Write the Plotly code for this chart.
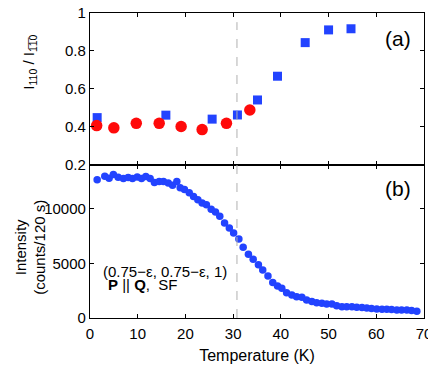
import plotly.graph_objects as go
from plotly.subplots import make_subplots

# panel (a): intensity ratio, two data sets
t_red = [1.4, 5.0, 9.7, 14.5, 19.1, 23.5, 28.6, 33.5]
r_red = [0.407, 0.395, 0.419, 0.419, 0.402, 0.386, 0.419, 0.489]
t_blue = [1.5, 15.9, 25.6, 30.9, 35.1, 39.3, 45.1, 50.0, 54.7]
r_blue = [0.449, 0.462, 0.441, 0.463, 0.542, 0.667, 0.844, 0.911, 0.917]

# panel (b): SF intensity vs temperature
t_b = [1.5, 3.1, 4.0, 4.9, 5.9, 7.0, 8.0, 8.9, 9.9, 10.8, 11.7, 12.6, 13.5, 14.5,
       15.4, 16.4, 17.3, 18.2, 18.9, 19.8, 20.8, 21.7, 22.6, 23.5, 24.4, 25.4,
       26.3, 27.2, 28.2, 29.2, 30.1, 31.2, 32.1, 33.2, 34.2, 35.3, 36.2, 37.3,
       38.3, 39.3, 40.2, 41.2, 42.3, 43.3, 44.4, 45.4, 46.5, 47.5, 48.6, 49.6,
       50.7, 51.7, 52.8, 53.8, 54.9, 55.9, 57.0, 58.0, 59.0, 60.1, 61.2, 62.2,
       63.2, 64.3, 65.3, 66.4, 67.4, 68.5]
i_b = [12650, 12960, 12780, 13110, 12870, 12750, 12840, 12750, 12900, 12750,
       12930, 12750, 12380, 12470, 12470, 12350, 12130, 12470, 11920, 11740,
       11460, 11100, 10820, 10520, 10360, 9950, 9700, 9300, 8680, 8225, 7770,
       7220, 6480, 5840, 5380, 4860, 4400, 3850, 3240, 2930, 2720, 2320, 2110,
       1950, 1900, 1650, 1500, 1400, 1350, 1280, 1280, 1130, 1040, 1040, 1040,
       980, 950, 920, 860, 830, 800, 800, 770, 740, 740, 740, 680, 610]

x_ticks = [0, 10, 20, 30, 40, 50, 60, 70]
a_ticks = [0.2, 0.4, 0.6, 0.8, 1]
a_labels = ['0.2', '0.4', '0.6', '0.8', '1']
b_ticks = [0, 5000, 10000]
b_labels = ['0', '5000', '10000']
t_dash = 30.8

RED = '#ff0a0a'
BLUE = '#2243ff'
FONT = 'Liberation Sans, Arial, sans-serif'

fig = make_subplots(rows=2, cols=1, shared_xaxes=True, vertical_spacing=0,
                    row_heights=[0.498, 0.502])

fig.add_trace(go.Scatter(x=t_blue, y=r_blue, mode='markers',
                         marker=dict(symbol='square', size=9, color=BLUE)), row=1, col=1)
fig.add_trace(go.Scatter(x=t_red, y=r_red, mode='markers',
                         marker=dict(symbol='circle', size=11.5, color=RED)), row=1, col=1)
fig.add_trace(go.Scatter(x=t_b, y=i_b, mode='markers',
                         marker=dict(symbol='circle', size=7.5, color=BLUE)), row=2, col=1)

ax = dict(showline=True, linecolor='black', linewidth=1.2, mirror='ticks',
          ticks='inside', ticklen=4, tickcolor='black', showgrid=False,
          zeroline=False, automargin=False, ticklabeloverflow='allow',
          tickfont=dict(family=FONT, size=15, color='black'))

fig.update_xaxes(range=[0, 70], tickvals=x_ticks, ticklabelstandoff=2, **ax)
fig.update_xaxes(showticklabels=False, row=1, col=1)
fig.update_xaxes(title=dict(text='Temperature (K)', font=dict(family=FONT, size=16),
                            standoff=8), row=2, col=1)
fig.update_yaxes(range=[0.2, 1], tickvals=a_ticks, ticktext=a_labels, **ax, row=1, col=1)
fig.update_yaxes(range=[0, 14000], tickvals=b_ticks, ticktext=b_labels, **ax, row=2, col=1)

# dashed line at the transition
fig.add_shape(type='line', xref='x', yref='paper', x0=t_dash, x1=t_dash,
              y0=0, y1=0.97, line=dict(color='#b0b0b0', width=1, dash='dash'))

ann = dict(showarrow=False, xref='paper', yref='paper', yanchor='middle',
           font=dict(family=FONT, size=15, color='black'))
# rotated label with subscripts sits low in plotly, so it is raised a bit
fig.add_annotation(text='I<sub>110</sub> / I<sub>1\u03051\u03050</sub>', textangle=-90,
                   x=-0.18, y=0.84, xanchor='center', **ann)
fig.add_annotation(text='Intensity<br>(counts/120 s)', textangle=-90,
                   x=-0.177, y=0.233, xanchor='center', **ann)
fig.add_annotation(text='(a)', x=0.922, y=0.915, xanchor='center',
                   **{**ann, 'font': dict(family=FONT, size=21, color='black')})
fig.add_annotation(text='(b)', x=0.922, y=0.424, xanchor='center',
                   **{**ann, 'font': dict(family=FONT, size=21, color='black')})
fig.add_annotation(text='(0.75\u2212\u03b5, 0.75\u2212\u03b5, 1)',
                   x=0.033, y=0.152, xanchor='left', **ann)
fig.add_annotation(text='<b>P</b> || <b>Q</b>,  SF',
                   x=0.048, y=0.111, xanchor='left', **ann)

# page body adds an 8px margin, so the figure is 8px smaller than the window
fig.update_layout(width=428, height=360, margin=dict(l=82, r=12, t=5, b=50),
                  plot_bgcolor='white', paper_bgcolor='white', showlegend=False,
                  font=dict(family=FONT, size=15, color='black'))

fig.write_html("out.html")
